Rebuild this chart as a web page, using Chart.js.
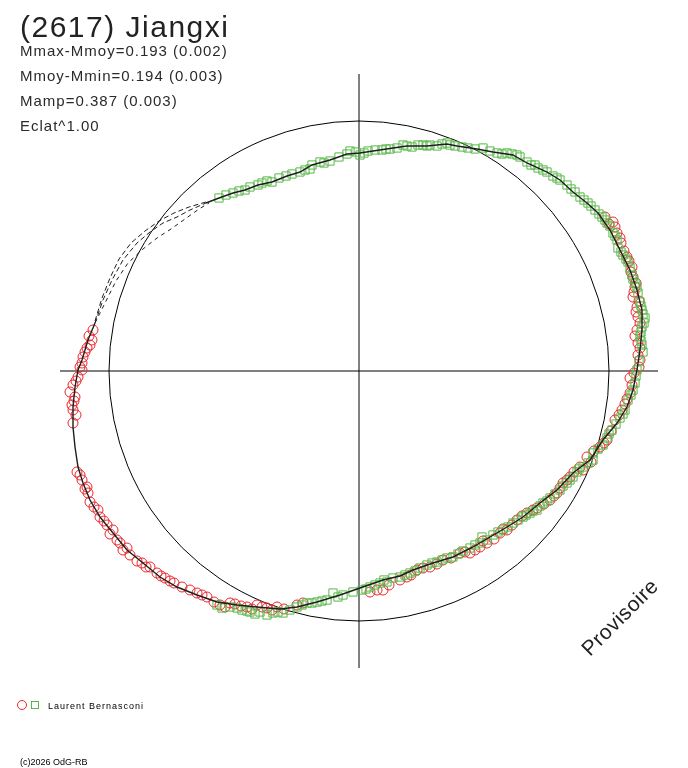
<!DOCTYPE html>
<html>
<head>
<meta charset="utf-8">
<script src="https://cdn.jsdelivr.net/npm/chart.js@4.4.1/dist/chart.umd.min.js"></script>
<style>
  html, body { margin: 0; padding: 0; background: #fff; }
  #wrap { position: relative; width: 688px; height: 768px; }
</style>
</head>
<body>
<div id="wrap"><canvas id="polar"></canvas></div>
<script>
// Polar lightcurve plot, offsets from the centre, mean radius = 250 units
const meanRadius = 250;
const xLimits = [-299, 299];
const yLimits = [-297, 297];

const titleText = "(2617) Jiangxi";
const infoLines = ["Mmax-Mmoy=0.193 (0.002)", "Mmoy-Mmin=0.194 (0.003)", "Mamp=0.387 (0.003)", "Eclat^1.00"];
const observer = "Laurent Bernasconi";
const copyright = "(c)2026 OdG-RB";
const stamp = "Provisoire";

// fitted model, clockwise from the upper left; the last stretch has no data
const modelX = [-153, -140, -126, -114, -101, -87, -72, -59, -47, -29, -12, 1, 14, 34, 48, 68, 88, 98, 118, 134,
  154, 168, 188, 201, 214, 228, 239, 251, 261, 271, 278, 283, 283, 281, 278, 274, 268, 258, 244, 231,
  214, 198, 181, 164, 148, 131, 114, 94, 74, 54, 41, 24, 1, -19, -42, -62, -79, -102, -122, -142,
  -162, -182, -199, -216, -232, -246, -259, -269, -276, -281, -284, -286, -286, -284, -281, -277, -271, -264,
  -256, -247, -236, -222, -209, -196, -182, -169, -153];
const modelY = [168, 173, 178, 181, 186, 189, 195, 199, 206, 211, 217, 218, 220, 223, 225, 225, 227, 225, 222, 219,
  216, 208, 199, 191, 179, 168, 158, 141, 121, 101, 81, 61, 41, 21, 1, -19, -36, -52, -69, -89,
  -102, -119, -132, -146, -156, -166, -176, -186, -192, -199, -205, -209, -217, -224, -231, -236, -238, -236, -234, -231,
  -224, -216, -206, -192, -179, -162, -146, -129, -112, -96, -76, -56, -36, -16, 1, 11, 31, 48,
  71, 91, 111, 128, 139, 148, 154, 161, 168];
const gapStart = 77;

// the two other model solutions across the gap
const altAX = [-264, -257, -249, -240, -228, -214, -200, -185, -170, -153];
const altAY = [50, 73, 93, 112, 128, 140, 150, 158, 164, 169];
const altBX = [-264, -253, -243, -231, -216, -202, -188, -174, -160, -150];
const altBY = [48, 70, 90, 108, 122, 133, 142, 152, 162, 168];

// session 1 (red circles)
const redX = [246, 254, 258, 261, 268, 273, 274, 276, 274, 278, 279, 278, 279, 281, 271, 271, 263, 256, 248, 241,
  228, 221, 211, 204, 198, 191, 174, 168, 158, 148, 141, 128, 121, 111, 101, 84, 71, 58, 48, 41,
  24, 11, -56, -82, -92, -102, -112, -129, -139, -152, -162, -169, -177, -194, -202, -209, -217, -229, -232, -242,
  -246, -252, -259, -261, -269, -271, -272, -277, -279, -286, -286, -287, -284, -289, -286, -281, -277, -277, -276, -274,
  -269, -267, -266];
const redY = [154, 149, 138, 133, 114, 104, 94, 84, 74, 64, 54, 41, 28, 11, -7, -22, -39, -49, -69, -76,
  -86, -96, -106, -112, -122, -129, -139, -142, -149, -159, -162, -172, -176, -182, -182, -189, -196, -199, -206, -209,
  -219, -221, -232, -236, -237, -234, -236, -232, -234, -226, -222, -219, -216, -207, -202, -196, -192, -184, -177, -169,
  -159, -154, -146, -139, -131, -122, -116, -109, -104, -52, -39, -34, -26, -21, -14, -6, 1, 8, 14, 19,
  26, 31, 41];
const redMoreX = [250, 256, 262, 265, 270, 272, 277, 275, 280, 277, 281, 276, 281, 279, 280, 275, 273, 268, 266, 260,
  252, 245, 235, 232, 224, 215, 208, 201, 195, 185, 178, 163, 153, 144, 135, 124, 116, 106, 92, 78,
  64, 52, 30, 18, -62, -75, -87, -97, -107, -118, -124, -134, -145, -157, -185, -189, -198, -213, -222, -236,
  -239, -249, -255, -265, -274, -282, -283, -285, -283, -279, -272, -270];
const redMoreY = [147, 144, 128, 120, 110, 99, 88, 79, 70, 59, 48, 35, 23, 16, 4, -2, -14, -28, -33, -44,
  -60, -72, -80, -91, -99, -101, -109, -117, -125, -133, -137, -145, -154, -158, -168, -170, -179, -181, -187, -193,
  -197, -204, -214, -219, -234, -238, -239, -236, -238, -235, -233, -236, -231, -224, -212, -210, -205, -196, -190, -179,
  -172, -163, -150, -136, -118, -101, -44, -30, -10, 4, 23, 35];

// session 2 (green squares)
const greenX = [-140, -126, -114, -109, -101, -97, -87, -73, -67, -59, -49, -47, -39, -29, -12, -9, 1, 9, 16, 23,
  31, 38, 44, 48, 59, 68, 71, 78, 88, 91, 96, 103, 116, 124, 131, 138, 148, 158, 161, 168,
  176, 179, 188, 194, 201, 208, 216, 221, 229, 236, 246, 251, 254, 258, 259, 264, 269, 271, 273, 276,
  279, 281, 283, 286, 283, 281, 283, 284, 278, 276, 274, 269, 266, 261, 253, 248, 244, 234, 234, 224,
  218, 214, 208, 201, 191, 184, 178, 171, 164, 154, 144, 134, 123, 121, 111, 94, 88, 78, 68, 61,
  51, 41, 34, 28, 21, 11, 3, -16, -26, -32, -42, -52, -62, -76, -86, -92, -99, -109, -117, -122,
  -129, -137, -142];
const greenY = [173, 178, 181, 184, 186, 188, 189, 195, 197, 199, 202, 206, 209, 210, 217, 220, 216, 220, 221, 221,
  222, 223, 226, 225, 226, 225, 226, 225, 228, 226, 225, 224, 222, 223, 220, 218, 218, 216, 214, 209,
  206, 203, 199, 195, 191, 186, 179, 174, 168, 161, 151, 145, 138, 131, 123, 116, 109, 103, 96, 88,
  78, 69, 61, 53, 44, 35, 26, 19, 1, -12, -19, -29, -39, -47, -59, -67, -74, -82, -89, -96,
  -101, -106, -112, -119, -127, -132, -139, -142, -146, -152, -159, -164, -166, -172, -177, -186, -187, -191, -194, -197,
  -202, -206, -207, -211, -212, -216, -219, -224, -222, -229, -231, -232, -236, -242, -242, -244, -241, -241, -239, -237,
  -236, -237, -234];
const greenMoreX = [243, 248, 256, 262, 267, 274, 278, 282, 284, 285, 282, 282, 280, 277, 272, 264, 257, 250, 239, 229,
  220, 211, 204, 196, 188, 181, 174, 167, 159, 149, 139, 128, 116, 104, 99, 83, 73, 56, 46, 25,
  16, 7, -6, -21, -37, -47, -57, -69, -81, -104, -112,
  -133, -120, -92, -80, -54, -35, -20, -3, 5, 27, 53, 64, 83, 109, 143, 153, 172, 184, 198, 212,
  225, 232, 240];
const greenMoreY = [154, 148, 135, 119, 112, 92, 84, 65, 57, 48, 39, 30, 10, -5, -24, -43, -53, -63, -78, -92,
  -98, -109, -115, -123, -130, -135, -140, -144, -149, -156, -161, -169, -174, -180, -183, -189, -192, -200, -204, -209,
  -214, -218, -221, -226, -230, -232, -234, -239, -241, -243, -240,
  176, 180, 190, 193, 201, 208, 214, 219, 218, 222, 224, 226, 227, 223, 217, 217, 206, 201, 193, 182,
  171, 165, 157];

const RED = "#e8282c";
const GREEN = "#58b848";
const INK = "#1e1e1e";

const toPoints = (xs, ys) => xs.map((x, i) => ({ x: x, y: ys[i] }));

// reference circle + all the text
const decorPlugin = {
    id: "decor",
    beforeDatasetsDraw(chart) {
        const { ctx, scales: { x, y } } = chart;
        const cx = x.getPixelForValue(0);
        const cy = y.getPixelForValue(0);
        const r = x.getPixelForValue(meanRadius) - cx;
        ctx.save();
        ctx.strokeStyle = "#000";
        ctx.lineWidth = 1;
        ctx.beginPath();
        ctx.arc(cx, cy, r, 0, Math.PI * 2);
        ctx.stroke();
        ctx.restore();
    },
    afterDraw(chart) {
        const ctx = chart.ctx;
        ctx.save();
        ctx.fillStyle = "#222";
        ctx.textBaseline = "alphabetic";

        ctx.font = '30px "Liberation Sans", Arial, sans-serif';
        ctx.letterSpacing = "1.5px";
        ctx.fillText(titleText, 20, 37);

        ctx.font = '15px "Liberation Sans", Arial, sans-serif';
        ctx.letterSpacing = "1px";
        ctx.fillStyle = "#2a2a2a";
        infoLines.forEach((t, i) => ctx.fillText(t, 20, 56 + i * 25));

        // legend
        ctx.lineWidth = 1;
        ctx.strokeStyle = RED;
        ctx.beginPath();
        ctx.arc(22, 705, 4.5, 0, Math.PI * 2);
        ctx.stroke();
        ctx.strokeStyle = GREEN;
        ctx.strokeRect(31.5, 701.5, 7, 7);
        ctx.font = '9px "Liberation Sans", Arial, sans-serif';
        ctx.letterSpacing = "1px";
        ctx.fillStyle = "#000";
        ctx.fillText(observer, 48, 709);
        ctx.letterSpacing = "0px";
        ctx.fillText(copyright, 20, 765);

        // stamp
        ctx.translate(590, 657);
        ctx.rotate(-Math.PI / 4);
        ctx.font = '21px "Liberation Sans", Arial, sans-serif';
        ctx.letterSpacing = "0.5px";
        ctx.fillStyle = "#222";
        ctx.fillText(stamp, 0, 0);
        ctx.restore();
    }
};

new Chart(document.getElementById("polar"), {
    type: "scatter",
    data: {
        datasets: [
            {
                label: "model",
                data: toPoints(modelX, modelY),
                showLine: true,
                pointRadius: 0,
                borderColor: INK,
                borderWidth: 1.4,
                segment: {
                    borderDash: c => c.p0DataIndex >= gapStart ? [5, 3] : undefined,
                    borderWidth: c => c.p0DataIndex >= gapStart ? 1 : 1.4
                }
            },
            {
                label: "model A",
                data: toPoints(altAX, altAY),
                showLine: true, pointRadius: 0,
                borderColor: INK, borderWidth: 1, borderDash: [5, 3]
            },
            {
                label: "model B",
                data: toPoints(altBX, altBY),
                showLine: true, pointRadius: 0,
                borderColor: INK, borderWidth: 1, borderDash: [4, 4]
            },
            {
                label: "session 2",
                data: toPoints(greenX, greenY).concat(toPoints(greenMoreX, greenMoreY)),
                pointStyle: "rect",
                pointRadius: 5.8,
                pointBorderWidth: 1,
                pointBorderColor: GREEN,
                pointBackgroundColor: "rgba(0,0,0,0)"
            },
            {
                label: "session 1",
                data: toPoints(redX, redY).concat(toPoints(redMoreX, redMoreY)),
                pointStyle: "circle",
                pointRadius: 5,
                pointBorderWidth: 1,
                pointBorderColor: RED,
                pointBackgroundColor: "rgba(0,0,0,0)"
            },
            {
                label: "x axis",
                data: [{ x: xLimits[0], y: 0 }, { x: xLimits[1], y: 0 }],
                showLine: true, pointRadius: 0, borderColor: "#000", borderWidth: 1
            },
            {
                label: "y axis",
                data: [{ x: 0, y: yLimits[0] }, { x: 0, y: yLimits[1] }],
                showLine: true, pointRadius: 0, borderColor: "#000", borderWidth: 1
            }
        ]
    },
    options: {
        responsive: true,
        maintainAspectRatio: false,
        animation: false,
        devicePixelRatio: 1,
        layout: { padding: { left: 60, right: 30, top: 74, bottom: 100 } },
        scales: {
            x: { type: "linear", min: xLimits[0], max: xLimits[1], display: false },
            y: { type: "linear", min: yLimits[0], max: yLimits[1], display: false }
        },
        plugins: { legend: { display: false }, tooltip: { enabled: false } }
    },
    plugins: [decorPlugin]
});
</script>
</body>
</html>
